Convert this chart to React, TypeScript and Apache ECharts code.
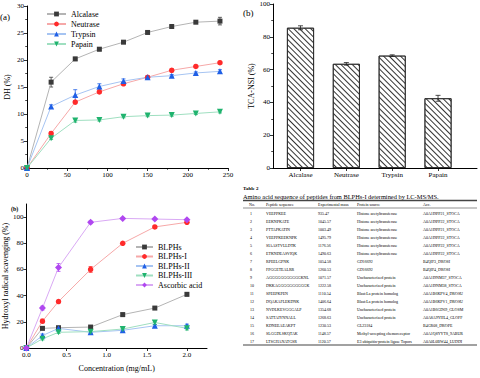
import React, { useEffect, useRef } from "react";
import * as echarts from "echarts";

// Panel (a): degree of hydrolysis
const timeX = [0, 30, 60, 90, 120, 150, 180, 210, 240];
const alcalase = [0, 15.9, 20.2, 22.0, 23.3, 25.1, 26.2, 27.0, 27.2];
const alcalaseErr = [0, 0.9, 0.3, 0.3, 0.2, 0.2, 0.2, 0.2, 0.7];
const neutrase = [0, 6.4, 12.2, 14.1, 15.6, 16.8, 18.1, 18.8, 19.5];
const neutraseErr = [0, 0.3, 0.3, 0.3, 0.3, 0.2, 0.3, 0.2, 0.2];
const trypsin = [0, 11.4, 13.5, 15.1, 16.1, 16.8, 17.1, 17.6, 17.9];
const trypsinErr = [0, 0.3, 1.0, 0.5, 0.4, 0.3, 0.2, 0.2, 0.3];
const papain = [0, 5.5, 8.8, 8.9, 9.5, 9.7, 9.8, 10.1, 10.4];
const papainErr = [0, 0.2, 0.3, 0.2, 0.2, 0.2, 0.2, 0.2, 0.2];

// Panel (b) top: TCA-NSI
const enzymes = ["Alcalase", "Neutrase", "Trypsin", "Papain"];
const tcaNsi = [85.5, 63.5, 68.5, 42.5];
const tcaNsiErr = [1.2, 0.8, 0.5, 1.8];

// Panel (b) bottom: hydroxyl radical scavenging
const concX = [0, 0.2, 0.4, 0.8, 1.2, 1.6, 2.0];
const blphs = [0, 15, 15.5, 16, 25.5, 30.5, 41];
const blphsErr = [0, 0.8, 0.8, 0.6, 1.2, 0.8, 1.2];
const blphs1 = [0, 20.5, 35.5, 60, 80, 92.5, 96];
const blphs1Err = [0, 1.5, 1.0, 2.2, 0.8, 1.0, 1.0];
const blphs2 = [0, 9.5, 15, 12, 13.5, 17, 17];
const blphs2Err = [0, 1.2, 1.0, 0.8, 0.8, 1.0, 1.2];
const blphs3 = [0, 7, 12, 12.5, 14.5, 19.5, 15];
const blphs3Err = [0, 0.8, 0.8, 0.6, 0.8, 1.5, 1.2];
const ascorbic = [0, 30.5, 61.5, 96, 99, 98.5, 98];
const ascorbicErr = [0, 1.5, 3.0, 1.0, 0.6, 0.6, 0.6];
const concTicks = [0, 0.5, 1.0, 1.5, 2.0];
const scavTicks = [0, 20, 40, 60, 80, 100];

// Table 2
const tableTitle = "Amino acid sequence of peptides from BLPHs-I determined by LC-MS/MS.";
const tableHeaders = ["No.", "Peptide sequence", "Experimental mass", "Protein source", "Acc."];
const peptideSeqs = [
  "VEEPPKEE", "EEKNPKATE", "PTTAPKATIN", "VEEPPKEEKNPK", "SIAASTVLLDTK", "ETKNDEASVIQK",
  "RPEELGPNK", "FPGGETEALRR", "AGGGGGGGGGGGKNL", "DKKAGGGGGGGGGGK", "SPEEPKPEN",
  "DQAKAFLEKDNK", "NVDLKEVGGGALP", "SATTAIYNNALL", "KDNEEAEAKPT", "SLGGDLSKQTAK", "LTSGHANATGSR",
];
const expMasses = [
  "935.47", "1045.57", "1003.49", "1495.79", "1176.56", "1490.63", "1054.58", "1260.53",
  "1071.57", "1222.58", "1110.54", "1406.64", "1354.68", "1268.63", "1230.53", "1148.57", "1120.57",
];
const proteinSources = [
  "Histone acetyltransferase", "Histone acetyltransferase", "Histone acetyltransferase",
  "Histone acetyltransferase", "Histone acetyltransferase", "Histone acetyltransferase",
  "GD16692", "GD16692", "Uncharacterized protein", "Uncharacterized protein",
  "Blast:La protein homolog", "Blast:La protein homolog", "Uncharacterized protein",
  "Uncharacterized protein", "GL23184", "Methyl-accepting chemoreceptor",
  "E3 ubiquitin-protein ligase Topors",
];
const accessions = [
  "A0A1I9PP21_STOCA", "A0A1I9PP22_STOCA", "A0A1I9PP21_STOCA", "A0A1I9PP22_STOCA",
  "A0A1I9PP22_STOCA", "A0A1I9PP22_STOCA", "B4QIF3_DROSI", "B4QIF4_DROSI",
  "A0A1I9NM37_STOCA", "A0A1I9NM38_STOCA", "A0A1B6KPV4_DROSU", "A0A1B6KPV1_DROSU",
  "A0A1B6GD69_GLOSM", "A0A8A9YHL4_GLOFF", "B4GR08_DROPE", "A0A1Q8YYT8_9ABUR",
  "A0A0L0BW44_LUDDI",
];

const FONT = "Liberation Serif";

function errSeries(xi: number, yi: number, xs: number[], ys: number[], errs: number[], color: string, cap: number) {
  const data: number[][] = [];
  xs.forEach((x, i) => {
    if (errs[i] > 0) data.push([x, ys[i] - errs[i], ys[i] + errs[i]]);
  });
  return {
    type: "custom",
    xAxisIndex: xi,
    yAxisIndex: yi,
    silent: true,
    z: 4,
    encode: { x: 0, y: [1, 2] },
    data,
    renderItem: (_p: any, api: any) => {
      const lo = api.coord([api.value(0), api.value(1)]);
      const hi = api.coord([api.value(0), api.value(2)]);
      const st = { stroke: color, lineWidth: 0.8 };
      return {
        type: "group",
        children: [
          { type: "line", shape: { x1: lo[0], y1: lo[1], x2: hi[0], y2: hi[1] }, style: st },
          { type: "line", shape: { x1: hi[0] - cap, y1: hi[1], x2: hi[0] + cap, y2: hi[1] }, style: st },
          { type: "line", shape: { x1: lo[0] - cap, y1: lo[1], x2: lo[0] + cap, y2: lo[1] }, style: st },
        ],
      };
    },
  };
}

function lineSeries(name: string, xi: number, xs: number[], ys: number[], mark: string, lineColor: string, symbol: string, size: number, rotate = 0) {
  return {
    type: "line",
    name,
    xAxisIndex: xi,
    yAxisIndex: xi,
    data: xs.map((x, i) => [x, ys[i]]),
    symbol,
    symbolSize: size,
    symbolRotate: rotate,
    showAllSymbol: true,
    z: 5,
    itemStyle: { color: mark, borderWidth: 0 },
    lineStyle: { color: lineColor, width: 1 },
  };
}

const labelBase = { color: "#000", fontSize: 7, fontFamily: FONT, fontWeight: "normal", margin: 3 };
const axisBase = {
  axisLine: { show: true, lineStyle: { color: "#000", width: 1 } },
  axisTick: { show: true, inside: false, length: 3, lineStyle: { color: "#000", width: 0.8 } },
  minorTick: { show: true, splitNumber: 2, length: 1.8, lineStyle: { color: "#000", width: 0.7 } },
  splitLine: { show: false },
  axisLabel: labelBase,
};
const nameStyle = { color: "#000", fontSize: 8, fontFamily: FONT, fontWeight: "normal" };

export default function App() {
  const ref = useRef<HTMLDivElement>(null);
  useEffect(() => {
    if (!ref.current) return;
    const chart = echarts.init(ref.current, undefined, { renderer: "svg" });

    const graphic: any[] = [];
    const txt = (t: string, x: number, y: number, fs: number, extra: any = {}) =>
      graphic.push({
        type: "text",
        x,
        y,
        silent: true,
        style: { text: t, fontSize: fs, fontFamily: FONT, fill: "#000", verticalAlign: "middle", ...extra },
      });
    txt("(a)", 0, 17, 9);
    txt("(b)", 243, 13, 9);
    txt("(b)", 11, 209, 6, { fontWeight: "bold" });
    // Table
    txt("Table 2", 243, 188, 5, { fontWeight: "bold" });
    txt(tableTitle, 243, 196, 6.4);
    graphic.push({ type: "line", silent: true, shape: { x1: 243, y1: 200.5, x2: 477, y2: 200.5 }, style: { stroke: "#444", lineWidth: 1.4 } });
    const colX = [249, 266, 318, 357, 423];
    tableHeaders.forEach((h, i) => txt(h, colX[i], 204.5, 4));
    graphic.push({ type: "line", silent: true, shape: { x1: 243, y1: 208, x2: 477, y2: 208 }, style: { stroke: "#444", lineWidth: 0.6 } });
    peptideSeqs.forEach((p, i) => {
      const y = 213 + i * 8;
      txt(String(i + 1), 250, y, 4);
      txt(p, colX[1], y, 4);
      txt(expMasses[i], colX[2], y, 4);
      txt(proteinSources[i], colX[3], y, 4);
      txt(accessions[i], colX[4], y, 4);
    });
    graphic.push({ type: "line", silent: true, shape: { x1: 243, y1: 345, x2: 477, y2: 345 }, style: { stroke: "#444", lineWidth: 1.2 } });

    const option: any = {
      animation: false,
      textStyle: { fontFamily: FONT },
      grid: [
        { left: 27, top: 6, width: 201, height: 162 },
        { left: 273, top: 4, width: 204, height: 164 },
        { left: 25, top: 204, width: 182, height: 144 },
      ],
      xAxis: [
        { ...axisBase, type: "value", gridIndex: 0, min: 0, max: 250, interval: 50 },
        {
          ...axisBase,
          type: "value",
          gridIndex: 1,
          min: 0.4,
          max: 4.85,
          minorTick: { show: false },
          axisTick: { ...axisBase.axisTick, customValues: [1, 2, 3, 4] },
          axisLabel: {
            ...labelBase,
            customValues: [1, 2, 3, 4],
            formatter: (v: number) => enzymes[Math.round(v) - 1] ?? "",
          },
        },
        {
          ...axisBase,
          type: "value",
          gridIndex: 2,
          min: 0,
          max: 2.25,
          minorTick: { show: false },
          axisTick: { ...axisBase.axisTick, customValues: concTicks },
          axisLabel: { ...labelBase, customValues: concTicks, formatter: (v: number) => v.toFixed(1) },
          name: "Concentration (mg/mL)",
          nameLocation: "middle",
          nameGap: 16,
          nameTextStyle: nameStyle,
        },
      ],
      yAxis: [
        {
          ...axisBase,
          type: "value",
          gridIndex: 0,
          min: 0,
          max: 30,
          interval: 5,
          name: "DH (%)",
          nameLocation: "middle",
          nameGap: 16,
          nameTextStyle: nameStyle,
        },
        {
          ...axisBase,
          type: "value",
          gridIndex: 1,
          min: 0,
          max: 100,
          interval: 20,
          name: "TCA-NSI (%)",
          nameLocation: "middle",
          nameGap: 18,
          nameTextStyle: nameStyle,
        },
        {
          ...axisBase,
          type: "value",
          gridIndex: 2,
          min: 0,
          max: 110,
          minorTick: { show: false },
          axisTick: { ...axisBase.axisTick, customValues: scavTicks },
          axisLabel: { ...labelBase, customValues: scavTicks },
          name: "Hydroxyl radical scavenging (%)",
          nameLocation: "middle",
          nameGap: 15,
          nameTextStyle: nameStyle,
        },
      ],
      legend: [
        {
          data: ["Alcalase", "Neutrase", "Trypsin", "Papain"],
          orient: "vertical",
          left: 41,
          top: 5,
          itemWidth: 19,
          itemHeight: 6,
          itemGap: 2,
          textStyle: { color: "#000", fontSize: 8, fontFamily: FONT },
        },
        {
          data: ["BLPHs", "BLPHs-I", "BLPHs-II", "BLPHs-III", "Ascorbic acid"],
          orient: "vertical",
          left: 130,
          top: 238,
          itemWidth: 17,
          itemHeight: 6,
          itemGap: 1.5,
          textStyle: { color: "#000", fontSize: 8, fontFamily: FONT },
        },
      ],
      graphic,
      series: [
        lineSeries("Alcalase", 0, timeX, alcalase, "#3a3a3a", "#b4b4b4", "rect", 5),
        lineSeries("Neutrase", 0, timeX, neutrase, "#ff2a2a", "#f6a8a8", "circle", 5.5),
        lineSeries("Trypsin", 0, timeX, trypsin, "#1f5fe6", "#a6c4f2", "triangle", 6),
        lineSeries("Papain", 0, timeX, papain, "#1fb36e", "#9fdfc0", "triangle", 6, 180),
        errSeries(0, 0, timeX, alcalase, alcalaseErr, "#3a3a3a", 2),
        errSeries(0, 0, timeX, neutrase, neutraseErr, "#ff2a2a", 2),
        errSeries(0, 0, timeX, trypsin, trypsinErr, "#1f5fe6", 2),
        errSeries(0, 0, timeX, papain, papainErr, "#1fb36e", 2),
        {
          type: "bar",
          xAxisIndex: 1,
          yAxisIndex: 1,
          barWidth: 27,
          data: enzymes.map((_, i) => [i + 1, tcaNsi[i]]),
          itemStyle: {
            color: "#ffffff",
            borderColor: "#222",
            borderWidth: 0.8,
            decal: {
              symbol: "rect",
              symbolSize: 1,
              color: "#333",
              dashArrayX: [1, 0],
              dashArrayY: [1, 2.6],
              rotation: Math.PI / 4,
            },
          },
        },
        errSeries(1, 1, [1, 2, 3, 4], tcaNsi, tcaNsiErr, "#222", 2.5),
        lineSeries("BLPHs", 2, concX, blphs, "#3a3a3a", "#b4b4b4", "rect", 5),
        lineSeries("BLPHs-I", 2, concX, blphs1, "#ff2a2a", "#f6a8a8", "circle", 5.5),
        lineSeries("BLPHs-II", 2, concX, blphs2, "#1f5fe6", "#a6c4f2", "triangle", 6),
        lineSeries("BLPHs-III", 2, concX, blphs3, "#1fb36e", "#9fdfc0", "triangle", 6, 180),
        lineSeries("Ascorbic acid", 2, concX, ascorbic, "#b047f0", "#d9a9f4", "diamond", 7),
        errSeries(2, 2, concX, blphs, blphsErr, "#3a3a3a", 2),
        errSeries(2, 2, concX, blphs1, blphs1Err, "#ff2a2a", 2),
        errSeries(2, 2, concX, blphs2, blphs2Err, "#1f5fe6", 2),
        errSeries(2, 2, concX, blphs3, blphs3Err, "#1fb36e", 2),
        errSeries(2, 2, concX, ascorbic, ascorbicErr, "#b047f0", 2),
      ],
    };
    chart.setOption(option);
    return () => chart.dispose();
  }, []);
  return (
    <div
      ref={ref}
      style={{ position: "absolute", left: 0, top: 0, width: 480, height: 378, background: "#fff" }}
    />
  );
}
